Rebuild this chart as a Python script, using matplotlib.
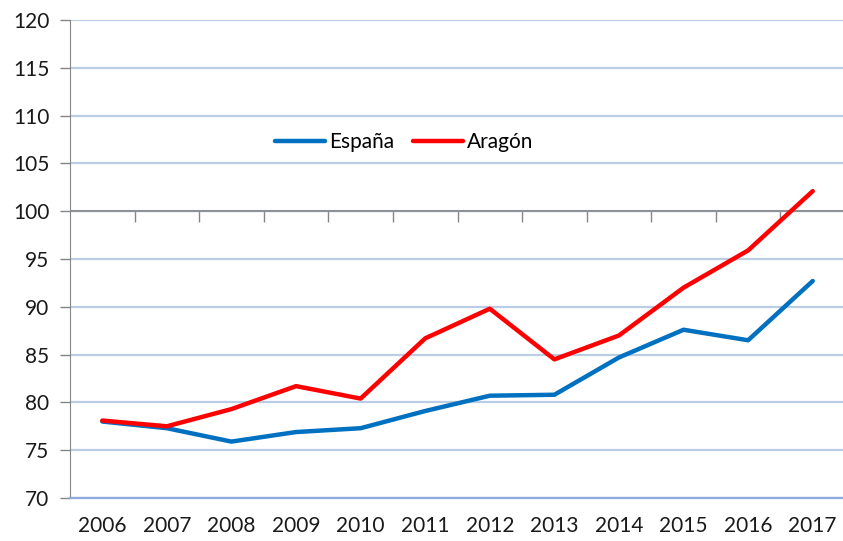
import matplotlib.pyplot as plt
from matplotlib.ticker import FixedLocator, NullFormatter

# values
years = ["2006", "2007", "2008", "2009", "2010", "2011",
         "2012", "2013", "2014", "2015", "2016", "2017"]
espana = [78.0, 77.3, 75.9, 76.9, 77.3, 79.1, 80.7, 80.8, 84.7, 87.6, 86.5, 92.7]
aragon = [78.1, 77.5, 79.3, 81.7, 80.4, 86.7, 89.8, 84.5, 87.0, 92.0, 95.9, 102.1]
y_ticks = [70, 75, 80, 85, 90, 95, 100, 105, 110, 115, 120]

plt.rcParams['font.family'] = ['Lato', 'DejaVu Sans']


def main():
    fig = plt.figure(figsize=(8.43, 5.41), dpi=100)
    ax = fig.add_axes([70 / 843, 1 - 498 / 541, 775 / 843, 478 / 541])

    x = list(range(len(years)))
    ax.plot(x, espana, color="#0070C0", lw=3.2, label="España",
            solid_capstyle="round", zorder=3)
    ax.plot(x, aragon, color="#FF0000", lw=3.2, label="Aragón",
            solid_capstyle="round", zorder=3)

    ax.set_xlim(-0.5, len(years) - 0.5)
    ax.set_ylim(70, 120)
    ax.set_yticks(y_ticks)
    ax.set_xticks(x)
    ax.set_xticklabels(years)
    ax.tick_params(axis="x", length=0, pad=13, labelsize=15, labelcolor="#1a1a1a")
    ax.tick_params(axis="y", length=7, width=1, color="#868686", pad=8,
                   labelsize=15, labelcolor="#1a1a1a")

    ax.yaxis.grid(True, color="#B9CDE5", lw=1.6)
    ax.set_axisbelow(True)
    for s in ["top", "right"]:
        ax.spines[s].set_visible(False)
    ax.spines["left"].set_color("#868686")
    ax.spines["bottom"].set_color("#8FAADC")
    ax.spines["bottom"].set_linewidth(1.6)

    # horizontal category axis crossing at 100
    ax.axhline(100, color="#868686", lw=1.2, zorder=2)
    sec = ax.secondary_xaxis((100 - 70) / 50)
    sec.xaxis.set_ticks_position("bottom")
    sec.xaxis.set_major_locator(FixedLocator([i + 0.5 for i in x[:-1]]))
    sec.xaxis.set_major_formatter(NullFormatter())
    sec.tick_params(axis="x", direction="out", length=8, width=1,
                    color="#868686", labelbottom=False, labeltop=False)
    for s in sec.spines.values():
        s.set_color("#868686")

    ax.legend(loc="center", bbox_to_anchor=((404 - 70) / 775, 1 - 122 / 478),
              ncol=2, frameon=False, fontsize=15, handlelength=2.4,
              handletextpad=0.2, columnspacing=0.9)

    fig.savefig("out.png", dpi=100)


if __name__ == "__main__":
    main()
